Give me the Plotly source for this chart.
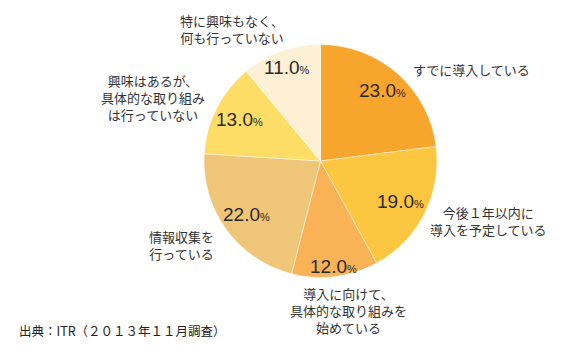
import math
import plotly.graph_objects as go

categories = [
    "すでに導入している",
    "今後１年以内に<br>導入を予定している",
    "導入に向けて、<br>具体的な取り組みを<br>始めている",
    "情報収集を<br>行っている",
    "興味はあるが、<br>具体的な取り組み<br>は行っていない",
    "特に興味もなく、<br>何も行っていない",
]
values = [23.0, 19.0, 12.0, 22.0, 13.0, 11.0]
colors = ["#F8A52E", "#FDC640", "#FAB256", "#EFC678", "#FDDD66", "#FEF0D5"]
source = "出典：ITR（２０１３年１１月調査）"

W, H = 571, 353
cx, cy, R = 320.5, 161.0, 116.5  # pixel geometry of the pie

fig = go.Figure(go.Pie(
    values=values,
    labels=categories,
    sort=False,
    direction="clockwise",
    rotation=0,
    textinfo="none",
    hoverinfo="label+value",
    marker=dict(colors=colors, line=dict(color="rgba(255,255,255,0.6)", width=0.8)),
    domain=dict(x=[(cx - R) / W, (cx + R) / W], y=[1 - (cy + R) / H, 1 - (cy - R) / H]),
    showlegend=False,
))

JP = "Noto Sans CJK JP, sans-serif"
NUM = "Liberation Sans, Arial, sans-serif"

# inside percentage labels, positioned at slice mid-angles
radial = [0.81, 0.77, 0.91, 0.78, 0.78, 0.85]
total = sum(values)
cum = 0.0
annotations = []
for i, v in enumerate(values):
    mid = (cum + v / 2) / total * 2 * math.pi
    cum += v
    px = cx + radial[i] * R * math.sin(mid)
    py = cy - radial[i] * R * math.cos(mid)
    annotations.append(dict(
        x=px / W, y=1 - py / H, xref="paper", yref="paper", showarrow=False,
        text=f"{v:.1f}<span style='font-size:11px'>%</span>",
        font=dict(family=NUM, size=19, color="#2a2a2a"),
        xanchor="center", yanchor="middle",
    ))

outside_pos = [(471, 69), (488, 221), (348, 310), (181, 245), (153, 97), (232, 29)]
for cat, (px, py) in zip(categories, outside_pos):
    annotations.append(dict(
        x=px / W, y=1 - py / H, xref="paper", yref="paper", showarrow=False,
        text=cat, align="center",
        font=dict(family=JP, size=13, color="#333333"),
        xanchor="center", yanchor="middle",
    ))

annotations.append(dict(
    x=17 / W, y=1 - 330 / H, xref="paper", yref="paper", showarrow=False,
    text=source, xanchor="left", yanchor="middle",
    font=dict(family=JP, size=12.5, color="#222222"),
))

fig.update_layout(
    width=W, height=H,
    margin=dict(l=0, r=0, t=0, b=0),
    paper_bgcolor="white",
    plot_bgcolor="white",
    annotations=annotations,
)

fig.write_html("out.html")
